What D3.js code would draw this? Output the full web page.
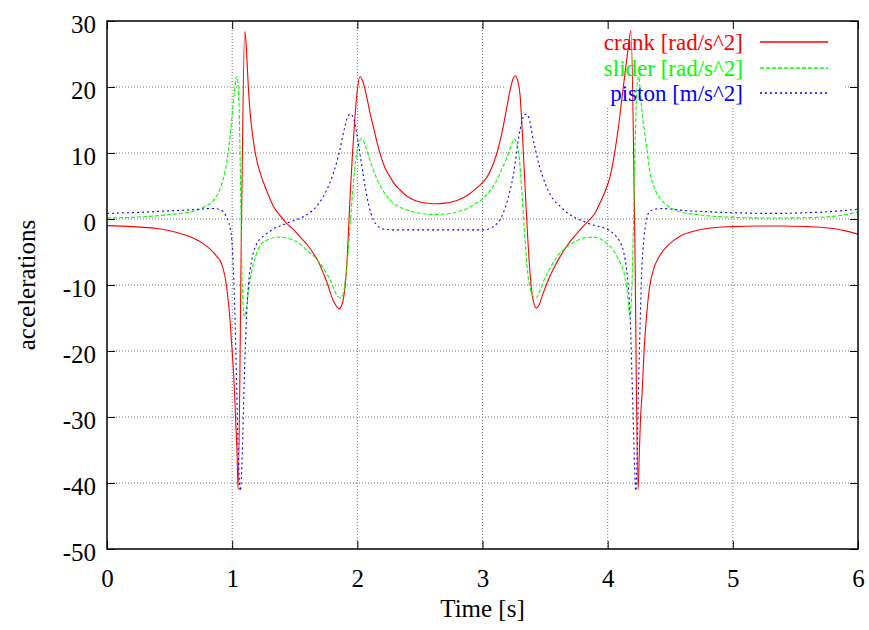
<!DOCTYPE html>
<head>
  <meta charset="utf-8">
  <style>
    body {
      margin: 0;
      background: #fff;
      font-family: 'Liberation Serif', 'Times New Roman', serif;
    }

    .grid line {
      stroke: #777;
      stroke-width: 1px;
      stroke-dasharray: 1, 2;
    }

    .axis text {
      font-family: 'Liberation Serif', 'Times New Roman', serif;
      font-size: 25px;
      fill: #000;
    }

    .axis line {
      stroke: #000;
      stroke-width: 1px;
    }

    .line {
      fill: none;
      stroke-width: 1.1px;
    }

    .crank  { stroke: #ff0000; color: #ff0000; }
    .slider { stroke: #00ff00; color: #00ff00; stroke-dasharray: 4, 2; }
    .piston { stroke: #0000ff; color: #0000ff; stroke-dasharray: 2, 3; }
  </style>
</head>
<body>
<svg id="graph" width="869" height="630"></svg>
<script src="https://cdn.jsdelivr.net/npm/d3@7"></script>
<script>
  // [time s, acceleration]
  var crank = [
    [0, -1.0], [0.2, -1.15], [0.4, -1.45], [0.55, -2.0], [0.65, -2.6], [0.75, -3.5],
    [0.82, -4.5], [0.87, -5.5], [0.916, -6.8], [0.956, -10.3], [0.983, -15.3],
    [1.001, -20.3], [1.017, -25.4], [1.028, -30.5], [1.039, -35.5], [1.047, -41.0],
    [1.075, 0], [1.1, 28.4], [1.11, 27.0], [1.12, 23.5], [1.129, 20.0], [1.142, 16.5],
    [1.156, 13.8], [1.17, 11.8], [1.182, 10.3], [1.2, 8.6], [1.225, 6.9], [1.249, 5.6],
    [1.29, 3.6], [1.33, 1.9],
    [1.38, 0.6], [1.436, -0.65], [1.49, -1.6], [1.542, -2.7], [1.6, -3.9], [1.648, -5.2],
    [1.69, -6.5], [1.728, -8.2], [1.765, -10.0], [1.795, -11.8], [1.825, -13.0],
    [1.856, -13.6], [1.875, -13.1], [1.89, -12.0], [1.915, -7.2], [1.941, 2.9],
    [1.96, 9.5], [1.981, 15.5], [2.0, 19.5], [2.021, 21.6], [2.045, 20.8], [2.075, 18.5],
    [2.1, 16.2], [2.128, 14.0], [2.155, 11.8], [2.181, 9.95], [2.22, 7.8], [2.261, 6.4],
    [2.3, 5.2], [2.341, 4.4], [2.4, 3.4], [2.46, 2.8], [2.52, 2.5], [2.58, 2.35],
    [2.634, 2.3], [2.7, 2.4], [2.76, 2.6], [2.82, 3.0], [2.88, 3.6], [2.94, 4.5],
    [3.0, 5.5], [3.05, 6.8], [3.087, 8.4], [3.12, 10.3], [3.16, 13.5], [3.19, 16.5],
    [3.22, 19.5], [3.245, 21.3], [3.262, 21.7], [3.28, 21.0], [3.3, 18.8], [3.322, 11.7],
    [3.349, 1.5], [3.375, -7.0], [3.4, -11.8], [3.43, -13.5], [3.45, -13.1], [3.48, -11.5],
    [3.52, -9.5], [3.563, -7.7], [3.62, -5.7], [3.67, -4.2], [3.74, -2.5], [3.8, -1.2],
    [3.85, -0.2], [3.9, 0.9], [3.94, 2.5], [3.98, 4.2], [4.02, 6.5], [4.06, 10.5],
    [4.09, 14.5], [4.115, 18.5], [4.14, 22.3], [4.165, 26.0], [4.186, 28.6], [4.215, 0],
    [4.243, -41.0], [4.252, -36.0], [4.262, -30.5], [4.278, -25.4], [4.29, -20.3],
    [4.308, -15.3], [4.335, -10.3], [4.37, -7.4], [4.405, -5.9], [4.44, -4.9], [4.472, -4.2],
    [4.53, -3.2], [4.578, -2.6], [4.68, -1.9], [4.791, -1.45], [5.0, -1.15], [5.2, -1.05],
    [5.4, -1.05], [5.59, -1.15], [5.7, -1.25], [5.803, -1.45], [5.9, -1.8], [6.0, -2.3]
  ];

  var slider = [
    [0, 0.15], [0.25, 0.3], [0.517, 0.7], [0.676, 1.1], [0.783, 1.9], [0.863, 3.1],
    [0.916, 5.3], [0.956, 8.5], [0.983, 12.5], [1.001, 16.0], [1.017, 19.0], [1.036, 21.6],
    [1.047, 20.3], [1.056, 16.5], [1.064, 9.0], [1.071, 0], [1.081, -10.3], [1.097, -14.8],
    [1.116, -13.3], [1.13, -10.8], [1.15, -8.5], [1.19, -5.5], [1.236, -3.7], [1.29, -3.1],
    [1.34, -2.8], [1.382, -2.75], [1.44, -2.9], [1.488, -3.2], [1.545, -3.8], [1.595, -4.7],
    [1.65, -5.6], [1.702, -6.7], [1.745, -8.0], [1.782, -9.2], [1.815, -10.7], [1.848, -11.8],
    [1.868, -11.9], [1.888, -11.3], [1.908, -8.5], [1.928, -4.7], [1.948, 0.5], [1.968, 5.4],
    [1.985, 8.5], [2.0, 10.5], [2.018, 11.8], [2.035, 12.2], [2.055, 11.6], [2.075, 10.5],
    [2.1, 9.0], [2.128, 7.4], [2.17, 5.5], [2.208, 4.2], [2.25, 3.1], [2.288, 2.4],
    [2.34, 1.8], [2.394, 1.4], [2.45, 1.05], [2.5, 0.86], [2.58, 0.7], [2.66, 0.7],
    [2.72, 0.8], [2.767, 0.9], [2.82, 1.2], [2.87, 1.5], [2.9, 1.8], [2.95, 2.4],
    [3.007, 3.1], [3.06, 4.3], [3.113, 5.8], [3.16, 7.8], [3.193, 9.2], [3.23, 11.2],
    [3.255, 12.1], [3.275, 11.3], [3.295, 9.0], [3.315, 4.0], [3.335, -1.8], [3.362, -8.3],
    [3.385, -10.8], [3.41, -11.8], [3.43, -11.9], [3.456, -11.0], [3.49, -9.3], [3.536, -7.6],
    [3.6, -5.6], [3.67, -4.3], [3.75, -3.3], [3.82, -2.85], [3.885, -2.75], [3.939, -3.0],
    [3.992, -3.7], [4.045, -4.7], [4.099, -6.6], [4.125, -7.7], [4.153, -10.5], [4.18, -14.8],
    [4.193, -10.5], [4.205, -2.0], [4.22, 11.7], [4.233, 19.8], [4.247, 21.6], [4.26, 19.5],
    [4.273, 16.5], [4.292, 13.5], [4.312, 10.8], [4.338, 7.0], [4.364, 5.2], [4.392, 3.9],
    [4.418, 3.1], [4.472, 2.1], [4.578, 1.1], [4.68, 0.75], [4.791, 0.5], [5.004, 0.25],
    [5.323, 0.15], [5.59, 0.2], [5.803, 0.4], [5.9, 0.65], [6.0, 1.1]
  ];

  var piston = [
    [0, 0.85], [0.25, 1.0], [0.517, 1.25], [0.676, 1.4], [0.783, 1.55], [0.85, 1.6],
    [0.9, 1.45], [0.929, 1.1], [0.95, 0.5], [0.969, -0.3], [0.985, -1.5], [0.996, -2.9],
    [1.009, -7.2], [1.023, -15.3], [1.036, -25.4], [1.049, -35.5], [1.065, -41.2],
    [1.081, -35.5], [1.095, -25.4], [1.108, -17.8], [1.118, -13.5], [1.13, -10.0],
    [1.156, -6.3], [1.19, -4.0], [1.25, -2.6], [1.3, -1.9], [1.33, -1.5], [1.39, -1.0],
    [1.436, -0.65], [1.49, -0.25], [1.542, 0.1], [1.6, 0.7], [1.648, 1.4], [1.69, 2.3],
    [1.728, 3.4], [1.77, 5.0], [1.808, 6.9], [1.835, 8.6], [1.861, 10.5], [1.88, 12.3],
    [1.901, 14.0], [1.92, 15.3], [1.941, 15.9], [1.962, 15.6], [1.981, 14.5], [1.995, 13.0],
    [2.008, 11.5], [2.028, 9.0], [2.048, 6.6], [2.068, 4.3], [2.088, 2.4], [2.108, 0.9],
    [2.128, -0.15], [2.155, -0.9], [2.181, -1.35], [2.22, -1.55], [2.288, -1.65],
    [2.5, -1.65], [2.8, -1.65], [3.007, -1.65], [3.05, -1.5], [3.087, -1.15], [3.115, -0.7],
    [3.14, -0.1], [3.165, 0.9], [3.193, 2.4], [3.22, 4.3], [3.246, 6.6], [3.262, 8.6],
    [3.282, 11.5], [3.3, 13.5], [3.315, 14.8], [3.335, 15.8], [3.352, 15.9], [3.375, 15.0],
    [3.4, 12.5], [3.429, 10.0], [3.455, 8.0], [3.48, 6.5], [3.509, 5.0], [3.55, 3.4],
    [3.617, 2.0], [3.68, 0.9], [3.751, 0.1], [3.8, -0.3], [3.85, -0.7], [3.9, -1.0],
    [3.95, -1.25], [4.0, -1.6], [4.04, -2.1], [4.08, -2.9], [4.108, -3.8], [4.13, -5.2],
    [4.15, -7.5], [4.166, -10.5], [4.18, -15.0], [4.193, -23.0], [4.205, -31.0],
    [4.215, -37.5], [4.225, -41.2], [4.236, -35.5], [4.245, -27.0], [4.26, -15.3],
    [4.272, -8.0], [4.287, -3.5], [4.3, -1.3], [4.315, 0.3], [4.335, 1.1], [4.365, 1.4],
    [4.42, 1.6], [4.472, 1.55], [4.6, 1.3], [4.791, 1.1], [5.004, 0.95], [5.323, 0.85],
    [5.59, 0.95], [5.803, 1.15], [5.9, 1.3], [6.0, 1.5]
  ];

  var xTicks = [0, 1, 2, 3, 4, 5, 6];
  var yTicks = [-50, -40, -30, -20, -10, 0, 10, 20, 30];
  var seriesNames = ["crank [rad/s^2]", "slider [rad/s^2]", "piston [m/s^2]"];
  var seriesClasses = ["crank", "slider", "piston"];
  var xTitle = "Time [s]";
  var yTitle = "accelerations";

  var svg = d3.select("svg#graph");
  var margin = { top: 21, right: 11, bottom: 81, left: 107 };
  var width = svg.attr("width") - margin.left - margin.right;
  var height = svg.attr("height") - margin.top - margin.bottom;

  svg.append("rect").attr("width", 869).attr("height", 630).attr("fill", "#fff");

  var g = svg.append("g").attr("transform", "translate(" + margin.left + "," + margin.top + ")");

  var x = d3.scaleLinear().domain([0, 6]).range([0, width]);
  var y = d3.scaleLinear().domain([-50, 30]).range([height, 0]);

  // plain hyphen for negatives, like the original
  var plain = function(d) { return String(d); };

  // grid
  var grid = g.append("g").attr("class", "grid");
  grid.selectAll("line.gx")
    .data(xTicks.slice(1, -1))
    .enter().append("line")
      .attr("x1", function(d) { return x(d); })
      .attr("x2", function(d) { return x(d); })
      .attr("y1", 0)
      .attr("y2", height);
  grid.selectAll("line.gy")
    .data(yTicks.slice(1, -1))
    .enter().append("line")
      .attr("y1", function(d) { return y(d); })
      .attr("y2", function(d) { return y(d); })
      .attr("x1", 0)
      .attr("x2", width);

  // key area covers the grid
  var key = { right: x(6) - 13, top: 1, w: 340, h: 86 };
  g.append("rect")
    .attr("x", key.right - key.w)
    .attr("y", key.top)
    .attr("width", key.w)
    .attr("height", key.h)
    .attr("fill", "#fff");

  g.append("defs").append("clipPath")
      .attr("id", "clip")
    .append("rect")
      .attr("width", width)
      .attr("height", height);

  var line = d3.line()
    .curve(d3.curveMonotoneX)
    .x(function(d) { return x(d[0]); })
    .y(function(d) { return y(d[1]); });

  var curves = g.append("g").attr("clip-path", "url(#clip)");
  [crank, slider, piston].forEach(function(data, i) {
    curves.append("path")
      .datum(data)
      .attr("class", "line " + seriesClasses[i])
      .attr("d", line);
  });

  // axes, ticks pointing inward on all sides
  g.append("g")
      .attr("class", "axis axis--x")
      .attr("transform", "translate(0," + height + ")")
      .call(d3.axisBottom(x).tickValues(xTicks).tickFormat(plain)
        .tickSizeInner(-8).tickSizeOuter(0).tickPadding(20))
      .call(function(s) { s.select(".domain").remove(); });
  g.append("g")
      .attr("class", "axis")
      .call(d3.axisTop(x).tickValues(xTicks).tickFormat("").tickSizeInner(-8).tickSizeOuter(0))
      .call(function(s) { s.select(".domain").remove(); });
  g.append("g")
      .attr("class", "axis axis--y")
      .call(d3.axisLeft(y).tickValues(yTicks).tickFormat(plain)
        .tickSizeInner(-8).tickSizeOuter(0).tickPadding(11))
      .call(function(s) {
        s.select(".domain").remove();
        s.selectAll("text").attr("dy", "0.45em");
      });
  g.append("g")
      .attr("class", "axis")
      .attr("transform", "translate(" + width + ",0)")
      .call(d3.axisRight(y).tickValues(yTicks).tickFormat("").tickSizeInner(-8).tickSizeOuter(0))
      .call(function(s) { s.select(".domain").remove(); });

  g.append("rect")
    .attr("width", width)
    .attr("height", height)
    .attr("fill", "none")
    .attr("stroke", "#000")
    .attr("stroke-width", 1.5);

  // axis titles
  g.append("text")
    .attr("x", width / 2)
    .attr("y", height + 68)
    .attr("text-anchor", "middle")
    .style("font-size", "25px")
    .text(xTitle);
  g.append("text")
    .attr("transform", "translate(" + (35 - margin.left) + "," + (height / 2) + ") rotate(-90)")
    .attr("text-anchor", "middle")
    .style("font-size", "25px")
    .text(yTitle);

  // key
  var legend = g.append("g").attr("class", "legend");
  seriesNames.forEach(function(name, i) {
    var yy = 29 + i * 25.5;
    var ly = Math.round(yy - 8);
    legend.append("text")
      .attr("class", seriesClasses[i])
      .attr("x", 636)
      .attr("y", yy)
      .attr("text-anchor", "end")
      .style("font-size", "23px")
      .style("stroke", "none")
      .attr("fill", "currentColor")
      .text(name);
    legend.append("line")
      .attr("class", "line " + seriesClasses[i])
      .style("stroke-width", "1.4px")
      .attr("x1", 653)
      .attr("x2", 721)
      .attr("y1", ly)
      .attr("y2", ly);
  });
</script>
</body>
